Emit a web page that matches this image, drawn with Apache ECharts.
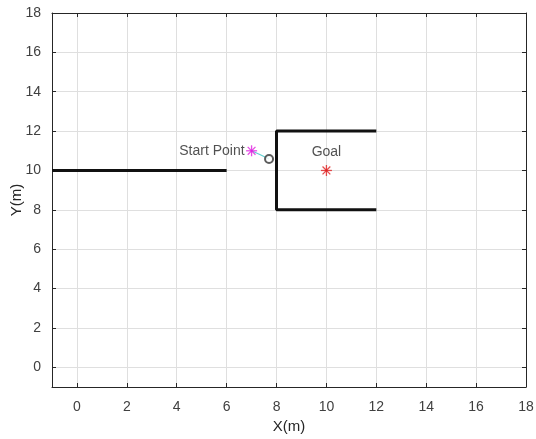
<!DOCTYPE html>
<html>
<head>
<meta charset="utf-8">
<script src="https://cdn.jsdelivr.net/npm/echarts@6/dist/echarts.min.js"></script>
<style>
  html, body { margin: 0; padding: 0; background: #fff; }
  #chart { width: 536px; height: 439px; }
</style>
</head>
<body>
<div id="chart"></div>
<script>
// 장애물 / 시작점 / 목표점 데이터
var wallLeft = [[-1, 10], [6, 10]];
var wallBox = [[12, 12], [8, 12], [8, 8], [12, 8]];
var startPt = [7, 11];
var goalPt = [10, 10];
var pathPts = [[7, 11], [7.35, 10.8], [7.7, 10.58]];
var robotPt = [7.7, 10.58];
var tickVals = [0, 2, 4, 6, 8, 10, 12, 14, 16, 18];

var FONT = "Arial, 'Liberation Sans', sans-serif";
var TXT = "#404040";

function asterisk(pt, color, name) {
  var rots = [0, 45, 90, 135];
  return {
    type: "scatter", name: name, z: 5,
    symbol: "rect", symbolSize: [1.3, 11],
    itemStyle: { color: color },
    data: rots.map(function (r) { return { value: pt, symbolRotate: r }; })
  };
}

function axisBase(pos, showLabel) {
  return {
    type: "value", position: pos, min: -1, max: 18,
    axisLine: { show: true, onZero: false, lineStyle: { color: "#262626", width: 1 } },
    axisTick: { show: true, inside: true, length: 4, customValues: tickVals,
                lineStyle: { color: "#262626" } },
    axisLabel: { show: showLabel, customValues: tickVals, color: TXT,
                 fontSize: 14, fontFamily: FONT, margin: 13 },
    splitLine: { show: showLabel, lineStyle: { color: "#dfdfdf", width: 1 } }
  };
}

var chart = echarts.init(document.getElementById("chart"), null, { renderer: "canvas" });
var xb = axisBase("bottom", true), xt = axisBase("top", false);
var yl = axisBase("left", true), yr = axisBase("right", false);
xb.name = "X(m)"; xb.nameLocation = "middle"; xb.nameGap = 32; xb.nameMoveOverlap = false;
xb.nameTextStyle = { color: "#262626", fontSize: 15, fontFamily: FONT };
yl.name = "Y(m)"; yl.nameLocation = "middle"; yl.nameGap = 28; yl.nameMoveOverlap = false;
yl.nameTextStyle = { color: "#262626", fontSize: 15, fontFamily: FONT };
yl.axisLabel.margin = 11;

chart.setOption({
  animation: false,
  backgroundColor: "#fff",
  grid: { left: 52, right: 10, top: 13, bottom: 52, outerBoundsMode: "none", containLabel: false },
  xAxis: [xb, xt],
  yAxis: [yl, yr],
  series: [
    { type: "line", data: wallLeft, symbol: "none",
      lineStyle: { color: "#111", width: 3 } },
    { type: "line", data: wallBox, symbol: "none",
      lineStyle: { color: "#111", width: 3 } },
    { type: "line", data: pathPts, symbol: "none", smooth: true,
      lineStyle: { color: "#5fd0d0", width: 1.2 } },
    asterisk(startPt, "#e020e0", "Start"),
    asterisk(goalPt, "#e02020", "Goal"),
    { type: "scatter", data: [robotPt], symbol: "emptyCircle", symbolSize: 8, z: 6,
      itemStyle: { color: "#333", borderColor: "#333", borderWidth: 1 } },
    { type: "scatter", data: [startPt], symbolSize: 0, silent: true,
      label: { show: true, position: "left", distance: 7, formatter: "Start Point",
               color: "#262626", fontSize: 14, fontFamily: FONT } },
    { type: "scatter", data: [goalPt], symbolSize: 0, silent: true,
      label: { show: true, position: "top", distance: 11, formatter: "Goal",
               color: "#262626", fontSize: 14, fontFamily: FONT } }
  ]
});
</script>
</body>
</html>
